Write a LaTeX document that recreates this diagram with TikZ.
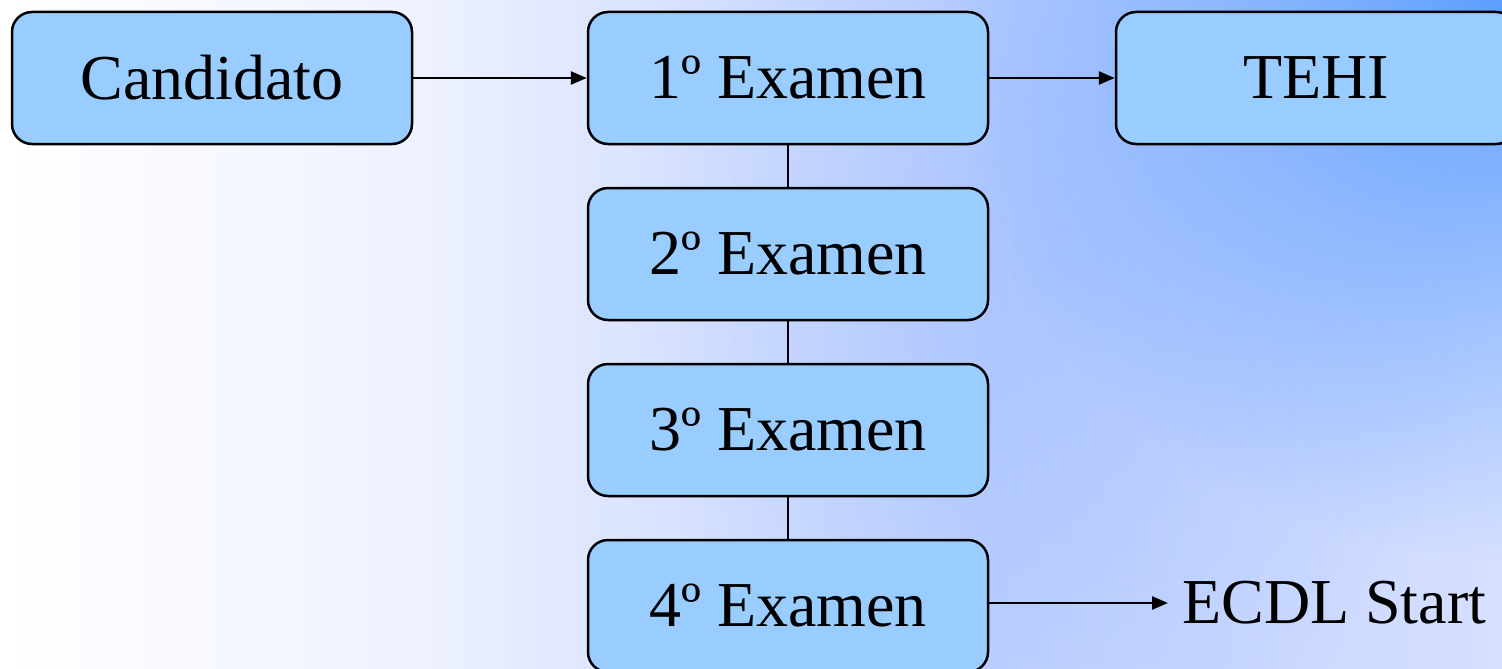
\documentclass[tikz,border=0pt]{standalone}
\usepackage{fontspec}
\setmainfont{Liberation Serif}
\usetikzlibrary{arrows.meta,fadings}

\definecolor{boxblue}{RGB}{153,204,255}
\definecolor{bgone}{RGB}{238,242,255}
\definecolor{bgtwo}{RGB}{222,230,255}
\definecolor{bgthree}{RGB}{190,208,255}
\definecolor{bgfour}{RGB}{214,224,255}
\definecolor{deepblue}{RGB}{92,158,255}
\definecolor{midblue}{RGB}{150,184,255}

\pgfdeclarehorizontalshading{bgshade}{100bp}{color(0bp)=(white);
  color(25bp)=(white); color(39bp)=(bgone); color(45bp)=(bgtwo);
  color(58bp)=(bgthree); color(75bp)=(bgfour); color(100bp)=(bgfour)}
\tikzfading[name=softglow, inner color=transparent!0, outer color=transparent!100]

\begin{document}
\begin{tikzpicture}[x=1pt, y=-1pt, line width=2.5pt,
  exam/.style={draw=black, fill=boxblue, rounded corners=20pt,
    minimum width=400pt, minimum height=132pt, inner sep=0pt,
    font=\fontsize{64}{72}\selectfont},
  link/.style={-{Triangle[length=16pt,width=13pt]}}]
  \useasboundingbox (0,0) rectangle (1502,669);
  \clip (0,0) rectangle (1502,669);

  % background
  \shade[shading=bgshade] (0,0) rectangle (1502,669);
  \fill[midblue, opacity=0.5, path fading=softglow] (1060,260) ellipse (420 and 520);
  \fill[deepblue, path fading=softglow] (1502,0) circle (560);

  \node[exam] (C) at (212,78) {Candidato};
  \node[exam] (E1) at (788,78) {1º Examen};
  \node[exam] (T) at (1316,78) {TEHI};
  \node[exam] (E2) at (788,254) {2º Examen};
  \node[exam] (E3) at (788,430) {3º Examen};
  \node[exam] (E4) at (788,606) {4º Examen};
  \node[anchor=west, inner xsep=13pt, inner ysep=0pt,
    font=\fontsize{64}{72}\selectfont] (S) at (1168,603) {ECDL Start};

  \draw[link] (C) -- (E1);
  \draw[link] (E1) -- (T);
  \draw (E1) -- (E2);
  \draw (E2) -- (E3);
  \draw (E3) -- (E4);
  \draw[link] (E4.east |- S.west) -- (S.west);

\end{tikzpicture}
\end{document}
